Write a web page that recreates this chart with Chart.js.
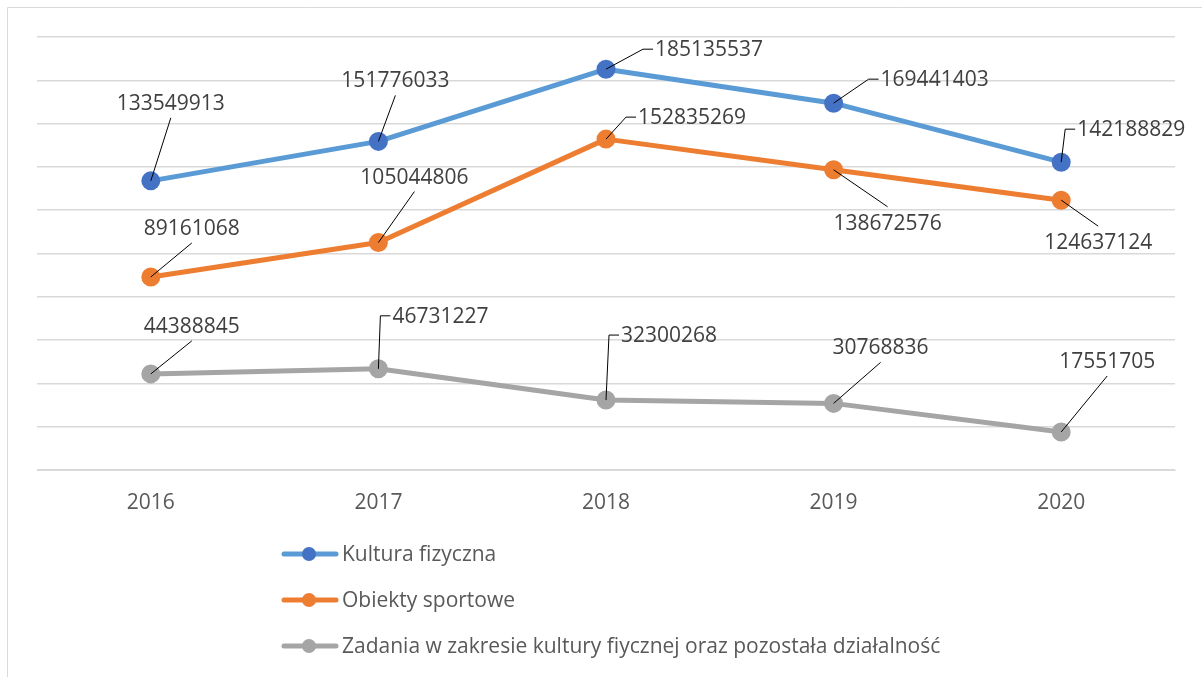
<!DOCTYPE html>
<html>
<head>
<meta charset="utf-8">
<script src="https://cdn.jsdelivr.net/npm/chart.js@4/dist/chart.umd.min.js"></script>
<style>
  html, body { margin: 0; padding: 0; background: #fff; }
  #wrap { width: 1202px; height: 677px; }
</style>
</head>
<body>
<div id="wrap"><canvas id="grafico" width="1202" height="677"></canvas></div>
<script>
const anos = ['2016', '2017', '2018', '2019', '2020']
const kulturaFizyczna = [133549913, 151776033, 185135537, 169441403, 142188829]
const obiektySportowe = [89161068, 105044806, 152835269, 138672576, 124637124]
const zadania = [44388845, 46731227, 32300268, 30768836, 17551705]
const nomes = [
  'Kultura fizyczna',
  'Obiekty sportowe',
  'Zadania w zakresie kultury fiycznej oraz pozostała działalność'
]

// posição dos rótulos (como foram arrastados no Excel): [modo, dx, dy]
// 'c' = centrado, 'l' = alinhado à esquerda com linha em cotovelo
const rotulosPos = [
  [['c', 20, -77], ['c', 17, -60], ['l', 49, -19], ['l', 47, -23], ['l', 16, -32]],
  [['c', 41, -48], ['c', 36, -65], ['l', 32, -21], ['c', 54, 54], ['c', 37, 43]],
  [['c', 41, -47], ['l', 14, -52], ['l', 15, -64], ['c', 47, -55], ['c', 46, -70]]
]

const FONTE = '"Open Sans", "Liberation Sans", sans-serif'

const moldura = {
  id: 'moldura',
  beforeDraw(chart) {
    const ctx = chart.ctx
    ctx.save()
    ctx.strokeStyle = '#d9d9d9'
    ctx.lineWidth = 1
    ctx.beginPath()
    ctx.moveTo(7.5, 677)
    ctx.lineTo(7.5, 7.5)
    ctx.lineTo(1202, 7.5)
    ctx.stroke()
    ctx.restore()
  }
}

const rotulos = {
  id: 'rotulos',
  afterDatasetsDraw(chart) {
    const ctx = chart.ctx
    ctx.save()
    ctx.font = '21px ' + FONTE
    ctx.textBaseline = 'middle'
    chart.data.datasets.forEach((ds, i) => {
      chart.getDatasetMeta(i).data.forEach((p, j) => {
        const [modo, dx, dy] = rotulosPos[i][j]
        const tx = p.x + dx
        const ty = p.y + dy
        const txt = String(ds.data[j])
        ctx.strokeStyle = '#000'
        ctx.lineWidth = 1
        ctx.beginPath()
        ctx.moveTo(p.x, p.y)
        if (modo === 'l') {
          ctx.lineTo(tx - 12, ty - 1)
          ctx.lineTo(tx - 2, ty - 1)
        } else {
          ctx.lineTo(tx, dy < 0 ? ty + 14 : ty - 17)
        }
        ctx.stroke()
        ctx.fillStyle = '#404040'
        ctx.textAlign = modo === 'l' ? 'left' : 'center'
        ctx.fillText(txt, tx, ty)
      })
    })
    ctx.restore()
  }
}

const legenda = {
  id: 'legenda',
  afterDraw(chart) {
    const ctx = chart.ctx
    ctx.save()
    chart.data.datasets.forEach((ds, i) => {
      const y = 554 + i * 46
      ctx.strokeStyle = ds.borderColor
      ctx.lineWidth = 5
      ctx.lineCap = 'round'
      ctx.beginPath()
      ctx.moveTo(284, y)
      ctx.lineTo(336, y)
      ctx.stroke()
      ctx.fillStyle = ds.pointBackgroundColor
      ctx.beginPath()
      ctx.arc(309, y, 7, 0, Math.PI * 2)
      ctx.fill()
      ctx.fillStyle = '#595959'
      ctx.font = '21px ' + FONTE
      ctx.textAlign = 'left'
      ctx.textBaseline = 'middle'
      ctx.fillText(ds.label, 342, y + 1)
    })
    ctx.restore()
  }
}

function serie(label, dados, linha, ponto) {
  return {
    label: label,
    data: dados,
    borderColor: linha,
    backgroundColor: linha,
    pointBackgroundColor: ponto,
    pointBorderColor: ponto,
    pointRadius: 7,
    pointHoverRadius: 7,
    borderWidth: 5,
    borderJoinStyle: 'round',
    borderCapStyle: 'round',
    tension: 0,
    fill: false
  }
}

new Chart(document.getElementById('grafico'), {
  type: 'line',
  data: {
    labels: anos,
    datasets: [
      serie(nomes[0], kulturaFizyczna, '#5b9bd5', '#4472c4'),
      serie(nomes[1], obiektySportowe, '#ed7d31', '#ed7d31'),
      serie(nomes[2], zadania, '#a5a5a5', '#a5a5a5')
    ]
  },
  options: {
    responsive: false,
    animation: false,
    layout: { padding: { left: 37, right: 27, top: 37, bottom: 0 } },
    plugins: {
      legend: { display: false },
      tooltip: { enabled: false }
    },
    scales: {
      x: {
        offset: true,
        grid: { display: false, drawTicks: false },
        border: { color: '#d9d9d9', width: 1 },
        ticks: { color: '#595959', font: { size: 21, family: FONTE }, padding: 20, maxRotation: 0 },
        afterFit: s => { s.height = 207 }
      },
      y: {
        min: 0,
        max: 200000000,
        ticks: { stepSize: 20000000, display: false },
        grid: { color: '#d9d9d9', lineWidth: 1.5, drawTicks: false },
        border: { display: false },
        afterFit: s => { s.width = 0 }
      }
    }
  },
  plugins: [moldura, rotulos, legenda]
})
</script>
</body>
</html>
